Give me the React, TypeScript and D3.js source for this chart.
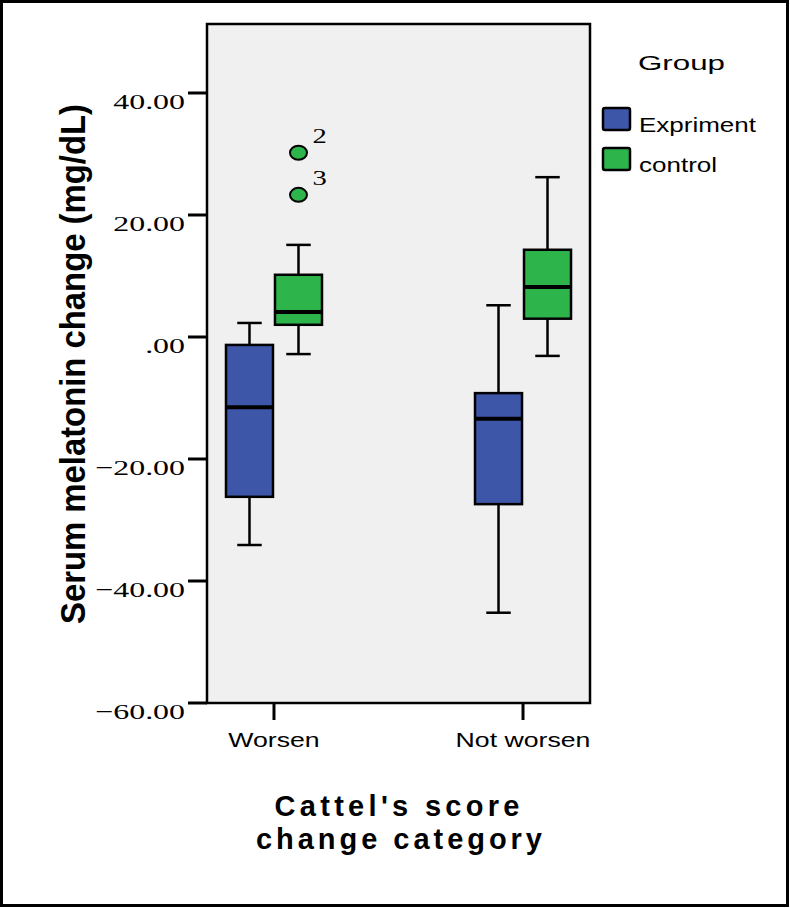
import React from 'react'
import * as d3 from 'd3'

const categories = ['Worsen', 'Not worsen']
const groups = ['Expriment', 'control']
const groupColors = ['#3e56a8', '#2db54b']

// box stats per category, in group order
const whiskerLow = [[-34.1, -2.8], [-45.2, -3.1]]
const q1 = [[-26.2, 2.0], [-27.4, 3.0]]
const medians = [[-11.5, 4.1], [-13.4, 8.2]]
const q3 = [[-1.3, 10.2], [-9.2, 14.3]]
const whiskerHigh = [[2.3, 15.1], [5.2, 26.2]]

const outlierValues = [30.2, 23.3]
const outlierLabels = ['2', '3']
const outlierCategory = 'Worsen'
const outlierGroup = 'control'

const yTicks = [-60, -40, -20, 0, 20, 40]

const W = 790
const H = 908
const left = 207
const right = 590
const top = 24
const bottom = 703

function fmt(v: number) {
    const s = d3.format('.2f')(v)
    return s.replace(/^0\./, '.')
}

function App() {
    const y = d3.scaleLinear().domain([-60, 51.31]).range([bottom, top])
    const x = d3.scalePoint().domain(categories).range([left, right]).padding(0.269)
    const sub = d3.scaleBand().domain(groups).range([-49, 49]).padding(0)
    const bw = sub.bandwidth()
    const sans = 'Arial, "Liberation Sans", sans-serif'
    const serif = '"Times New Roman", "Liberation Serif", serif'

    return (
        <svg width={W} height={H} style={{ position: 'absolute', left: 0, top: 0 }}>
            <rect x={0} y={0} width={W} height={H} fill="#fff" />
            <rect x={1.5} y={1.5} width={W - 4} height={H - 4} fill="none" stroke="#000" strokeWidth={3} />

            <rect x={left} y={top} width={right - left} height={bottom - top}
                fill="#f0f0f0" stroke="#000" strokeWidth={2.5} />

            {yTicks.map(t => (
                <g key={t}>
                    <line x1={188} x2={left} y1={y(t)} y2={y(t)} stroke="#000" strokeWidth={3} />
                    <text transform={`translate(185,${y(t) + 16}) scale(1.45,1)`} textAnchor="end"
                        fontFamily={serif} fontSize={22} fill="#000">{fmt(t)}</text>
                </g>
            ))}

            {categories.map(c => (
                <g key={c}>
                    <line x1={x(c)} x2={x(c)} y1={bottom} y2={720} stroke="#000" strokeWidth={3} />
                    <text transform={`translate(${x(c)},747) scale(1.27,1)`} textAnchor="middle"
                        fontFamily={sans} fontSize={21} fill="#000">{c}</text>
                </g>
            ))}

            {categories.map((c, ci) => groups.map((g, gi) => {
                const x0 = (x(c) as number) + (sub(g) as number)
                const cx = x0 + bw / 2
                const cap = bw / 4
                return (
                    <g key={c + g}>
                        <line x1={cx} x2={cx} y1={y(whiskerHigh[ci][gi])} y2={y(q3[ci][gi])} stroke="#000" strokeWidth={2.5} />
                        <line x1={cx} x2={cx} y1={y(q1[ci][gi])} y2={y(whiskerLow[ci][gi])} stroke="#000" strokeWidth={2.5} />
                        <line x1={cx - cap} x2={cx + cap} y1={y(whiskerHigh[ci][gi])} y2={y(whiskerHigh[ci][gi])} stroke="#000" strokeWidth={2.5} />
                        <line x1={cx - cap} x2={cx + cap} y1={y(whiskerLow[ci][gi])} y2={y(whiskerLow[ci][gi])} stroke="#000" strokeWidth={2.5} />
                        <rect x={x0 + 1} y={y(q3[ci][gi])} width={bw - 2} height={y(q1[ci][gi]) - y(q3[ci][gi])}
                            fill={groupColors[gi]} stroke="#000" strokeWidth={2.5} />
                        <line x1={x0 + 1} x2={x0 + bw - 1} y1={y(medians[ci][gi])} y2={y(medians[ci][gi])} stroke="#000" strokeWidth={4} />
                    </g>
                )
            }))}

            {outlierValues.map((v, i) => {
                const cx = (x(outlierCategory) as number) + (sub(outlierGroup) as number) + bw / 2
                return (
                    <g key={i}>
                        <ellipse cx={cx} cy={y(v)} rx={8.5} ry={7} fill={groupColors[1]} stroke="#000" strokeWidth={2} />
                        <text transform={`translate(${cx + 14},${y(v) - 10}) scale(1.3,1)`} fontFamily={serif}
                            fontSize={22} fill="#000">{outlierLabels[i]}</text>
                    </g>
                )
            })}

            <text transform={`translate(85,364) rotate(-90)`} textAnchor="middle" fontFamily={sans}
                fontWeight="bold" fontSize={35} textLength={520} lengthAdjust="spacingAndGlyphs" fill="#000">
                Serum melatonin change (mg/dL)
            </text>

            <text x={397} y={816} textAnchor="middle" fontFamily={sans} fontWeight="bold" fontSize={29}
                textLength={245} lengthAdjust="spacing" fill="#000">Cattel's score</text>
            <text x={399} y={849} textAnchor="middle" fontFamily={sans} fontWeight="bold" fontSize={29}
                textLength={286} lengthAdjust="spacing" fill="#000">change category</text>

            <text x={638} y={70} fontFamily={sans} fontSize={21} textLength={87} lengthAdjust="spacingAndGlyphs" fill="#000">Group</text>
            {groups.map((g, i) => (
                <g key={g} transform={`translate(0,${i * 40})`}>
                    <rect x={603} y={108} width={27} height={22} rx={2} fill={groupColors[i]} stroke="#000" strokeWidth={2.5} />
                    <text transform={`translate(639,132) scale(1.3,1)`} fontFamily={sans} fontSize={20} fill="#000">{g}</text>
                </g>
            ))}
        </svg>
    )
}

export default App
